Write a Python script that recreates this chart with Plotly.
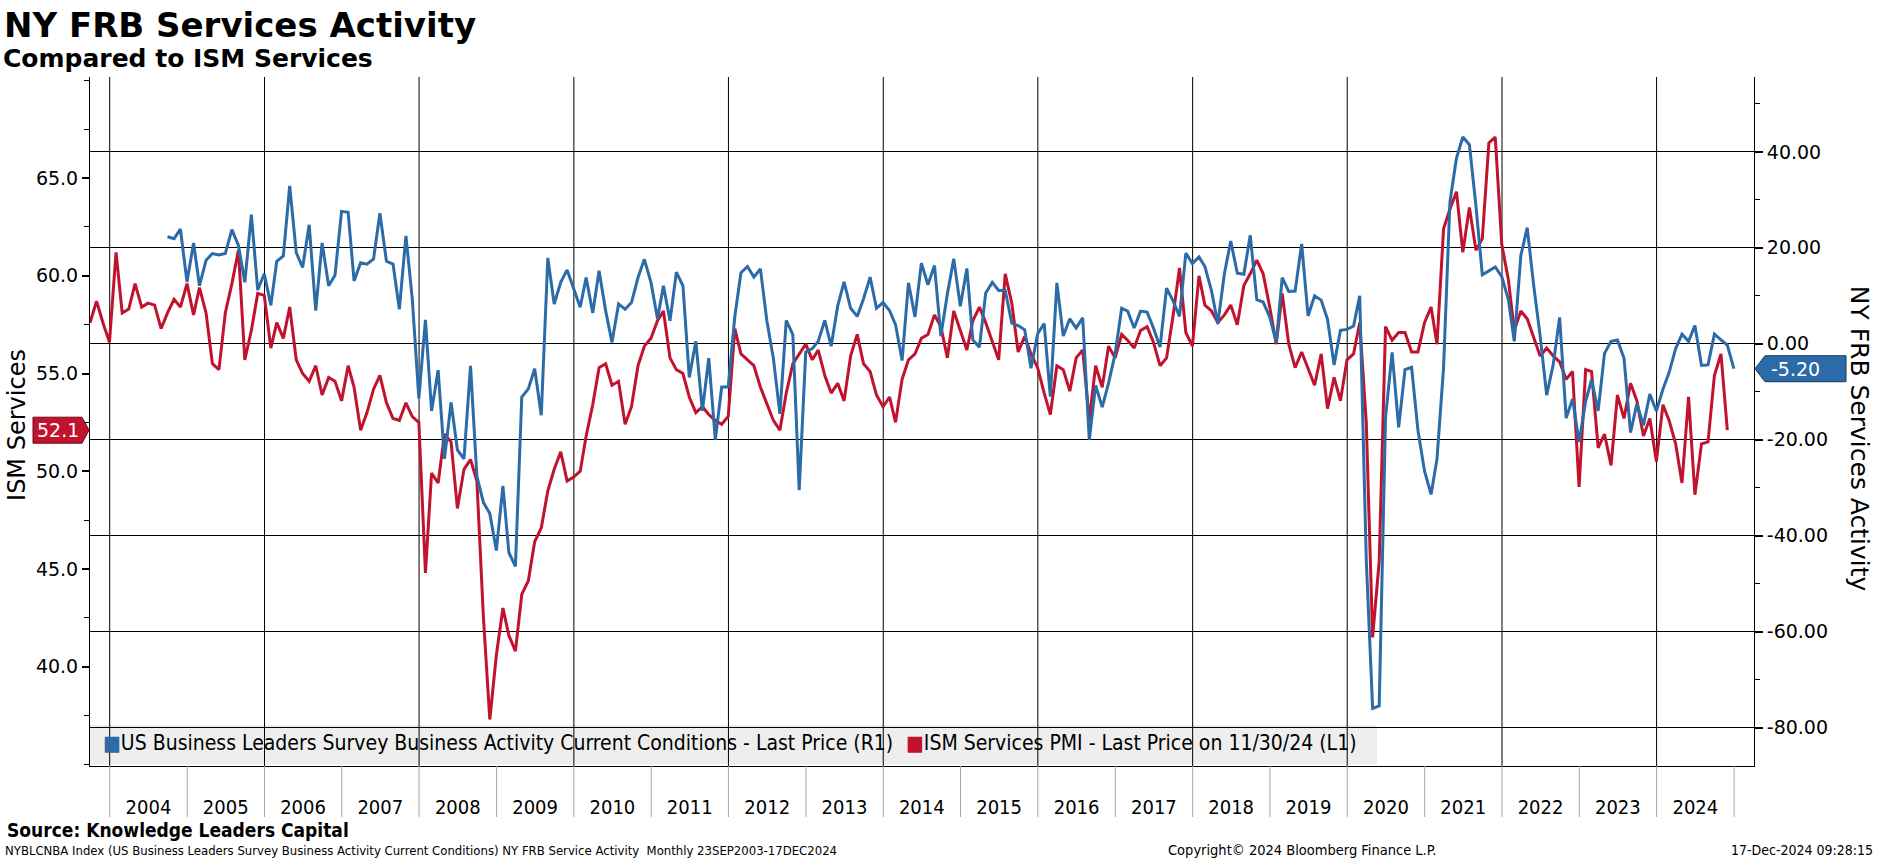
import pandas as pd
import plotly.graph_objects as go

# ---------------- data (month-end values) ----------------
# ISM Services PMI, Sep 2003 .. Nov 2024 (left axis)
ism_services_pmi = [
    57.6, 58.7, 57.6, 56.6,                                                  # 2003 Sep-Dec
    61.2, 58.1, 58.3, 59.6, 58.4, 58.6, 58.5, 57.3, 58.1, 58.8, 58.4, 59.6,  # 2004
    58.0, 59.4, 58.1, 55.5, 55.2, 58.1, 59.6, 61.3, 55.7, 57.2, 59.1, 59.0,  # 2005
    56.3, 57.6, 56.8, 58.4, 55.7, 55.0, 54.6, 55.4, 53.9, 54.8, 54.6, 53.6,  # 2006
    55.4, 54.3, 52.1, 53.0, 54.2, 54.9, 53.5, 52.7, 52.6, 53.5, 52.8, 52.5,  # 2007
    44.8, 49.9, 49.4, 51.9, 51.5, 48.1, 50.1, 50.6, 49.5, 42.5, 37.3, 40.6,  # 2008
    43.0, 41.6, 40.8, 43.7, 44.4, 46.4, 47.1, 49.0, 50.1, 51.0, 49.5, 49.7,  # 2009
    50.0, 51.8, 53.4, 55.3, 55.5, 54.4, 54.6, 52.4, 53.3, 55.4, 56.4, 56.8,  # 2010
    57.7, 58.2, 55.8, 55.2, 55.0, 53.8, 53.0, 53.3, 52.9, 52.6, 52.4, 52.8,  # 2011
    57.3, 56.0, 55.7, 55.4, 54.3, 53.5, 52.6, 52.1, 54.0, 55.5, 56.0, 56.5,  # 2012
    55.7, 56.2, 54.9, 54.0, 54.5, 53.6, 55.9, 57.0, 55.5, 55.1, 53.9, 53.3,  # 2013
    53.8, 52.5, 54.7, 55.7, 56.0, 56.8, 57.0, 58.0, 57.4, 55.8, 58.2, 57.2,  # 2014
    56.2, 57.7, 58.4, 57.6, 56.6, 55.7, 60.1, 58.6, 56.1, 56.9, 56.0, 55.3,  # 2015
    54.0, 52.9, 55.4, 55.2, 54.1, 55.8, 56.2, 52.6, 55.4, 54.3, 56.4, 55.8,  # 2016
    57.0, 56.7, 56.3, 57.2, 57.4, 56.6, 55.4, 55.8, 57.9, 60.4, 57.1, 56.4,  # 2017
    60.0, 58.5, 58.2, 57.6, 58.0, 58.5, 57.5, 59.5, 60.1, 60.8, 60.1, 58.4,  # 2018
    56.5, 59.1, 56.5, 55.3, 56.1, 55.3, 54.4, 56.0, 53.2, 54.8, 53.6, 55.7,  # 2019
    56.0, 57.6, 52.5, 41.5, 45.4, 57.4, 56.7, 57.1, 57.1, 56.1, 56.1, 57.6,  # 2020
    58.4, 56.5, 62.4, 63.4, 64.3, 61.2, 63.5, 61.3, 61.9, 66.8, 67.1, 61.6,  # 2021
    59.8, 57.2, 58.2, 57.8, 56.8, 55.9, 56.3, 55.9, 55.6, 54.7, 55.1, 49.2,  # 2022
    55.2, 55.1, 51.2, 51.9, 50.3, 53.9, 52.7, 54.5, 53.6, 51.8, 52.7, 50.5,  # 2023
    53.4, 52.6, 51.4, 49.4, 53.8, 48.8, 51.4, 51.5, 54.9, 56.0, 52.1,        # 2024 Jan-Nov
]
ism_first_month = "2003-09"

# NY FRB Business Leaders Survey, business activity, Sep 2004 .. Dec 2024 (right axis)
ny_frb_activity = [
    22.3, 21.9, 23.9, 12.9,                                                  # 2004 Sep-Dec
    21.0, 12.1, 17.4, 18.8, 18.5, 18.8, 23.8, 20.5, 12.8, 26.9, 11.2, 14.6,  # 2005
    8.0, 17.2, 18.3, 32.9, 19.0, 15.9, 24.8, 6.9, 21.0, 12.1, 14.3, 27.6,    # 2006
    27.4, 13.1, 16.9, 16.6, 17.7, 27.2, 17.2, 16.6, 7.2, 22.5, 9.3, -11.4,   # 2007
    5.0, -14.0, -5.5, -24.0, -12.2, -22.1, -24.0, -4.6, -27.6, -33.1, -35.4, -43.1,  # 2008
    -29.6, -43.5, -46.4, -11.1, -9.4, -5.2, -14.9, 17.9, 8.3, 12.8, 15.4, 11.7,     # 2009
    7.6, 13.8, 6.4, 15.2, 6.9, 0.3, 8.3, 7.2, 8.6, 13.8, 17.6, 12.8,         # 2010
    5.2, 12.1, 4.8, 14.9, 12.1, -7.0, 0.5, -14.0, -3.0, -20.0, -9.0, -9.0,   # 2011
    5.7, 14.8, 16.1, 13.9, 15.6, 4.9, -3.0, -14.6, 4.9, 1.9, -30.5, -1.7,    # 2012
    -1.0, 0.5, 4.9, -0.5, 7.9, 12.9, 7.4, 5.7, 9.4, 13.9, 7.4, 8.6,          # 2013
    6.9, 4.0, -3.5, 12.7, 5.6, 16.8, 12.3, 16.3, 1.6, 10.4, 17.7, 7.8,       # 2014
    15.7, 0.8, -0.7, 10.6, 12.8, 11.1, 11.1, 4.3, 3.8, 2.9, -5.1, 2.1,       # 2015
    4.2, -11.0, 12.7, 1.6, 5.2, 3.3, 5.4, -20.0, -8.7, -13.2, -8.2, -2.1,    # 2016
    7.4, 6.8, 3.3, 6.8, 6.6, 3.3, -0.7, 11.6, 9.0, 5.7, 18.9, 16.7,          # 2017
    18.1, 16.1, 11.1, 4.2, 14.6, 21.4, 14.7, 14.5, 22.6, 9.2, 8.7, 5.6,      # 2018
    0.3, 13.8, 10.9, 11.0, 20.8, 5.8, 10.0, 9.1, 5.1, -4.4, 2.8, 3.0,        # 2019
    3.7, 10.0, -45.0, -76.0, -75.5, -15.4, -1.8, -17.4, -5.4, -4.9, -18.0, -26.5,   # 2020
    -31.4, -24.0, -5.0, 29.5, 38.7, 43.1, 41.5, 28.7, 14.4, 15.2, 16.0, 14.0,       # 2021
    9.2, 0.5, 18.4, 24.2, 12.0, 1.7, -10.7, -4.3, 5.5, -15.5, -11.5, -20.5,  # 2022
    -12.0, -7.5, -14.0, -2.0, 0.5, 0.8, -3.0, -18.5, -12.5, -17.0, -10.5, -14.0,    # 2023
    -9.5, -6.0, -1.0, 2.0, 0.5, 3.8, -4.5, -4.4, 2.0, 0.8, -0.3, -5.2,       # 2024
]
ny_first_month = "2004-09"

year_labels = [str(y) for y in range(2004, 2025)]
divider_years = list(range(2004, 2026))
grid_years = list(range(2004, 2025, 2))

ism_ticks = [40, 45, 50, 55, 60, 65]
ism_ticktext = ["40.0", "45.0", "50.0", "55.0", "60.0", "65.0"]
ny_ticks = [-80, -60, -40, -20, 0, 20, 40]
ny_ticktext = ["-80.00", "-60.00", "-40.00", "-20.00", "0.00", "20.00", "40.00"]

series_names = [
    "US Business Leaders Survey Business Activity Current Conditions - Last Price (R1)",
    "ISM Services PMI - Last Price on 11/30/24 (L1)",
]


def month_ends(first_month, n):
    start = pd.Period(first_month, freq="M").to_timestamp() + pd.offsets.MonthBegin(1)
    return pd.date_range(start, periods=n, freq="MS") - pd.Timedelta(days=1)


ism_dates = month_ends(ism_first_month, len(ism_services_pmi))
ny_dates = month_ends(ny_first_month, len(ny_frb_activity))

# ---------------- style ----------------
BLUE = "#2b6ba8"
RED = "#c1132d"
NARROW = "Liberation Sans Narrow, Arial Narrow, DejaVu Sans Condensed, sans-serif"
SANS = "DejaVu Sans, Verdana, sans-serif"

fig = go.Figure()

fig.add_trace(go.Scatter(x=ny_dates, y=ny_frb_activity, yaxis="y2", mode="lines",
                         line=dict(color=BLUE, width=3), showlegend=False,
                         name=series_names[0]))
fig.add_trace(go.Scatter(x=ism_dates, y=ism_services_pmi, yaxis="y", mode="lines",
                         line=dict(color=RED, width=3), showlegend=False,
                         name=series_names[1]))

shapes = []
# legend background box (below gridlines)
shapes.append(dict(type="rect", xref="paper", yref="paper", x0=0, x1=0.7734, y0=0.002, y1=0.0595,
                   fillcolor="#eeeeee", line=dict(width=0), layer="below"))
# vertical gridlines every two years
for y in grid_years:
    shapes.append(dict(type="line", xref="x", yref="paper", x0=f"{y}-01-01", x1=f"{y}-01-01",
                       y0=0, y1=1, line=dict(color="black", width=1), layer="below"))
# year dividers below the axis
for y in divider_years:
    shapes.append(dict(type="line", xref="x", yref="paper", x0=f"{y}-01-01", x1=f"{y}-01-01",
                       y0=0, y1=-0.074, line=dict(color="#a8a8a8", width=1)))
# last-value tags
shapes.append(dict(type="path", xref="paper", yref="y", xsizemode="pixel", ysizemode="pixel",
                   xanchor=0, yanchor=ism_services_pmi[-1],
                   path="M -1,0 L -8,13 L -57,13 L -57,-13 L -8,-13 Z",
                   fillcolor=RED, line=dict(color="#6e0a18", width=1), layer="above"))
shapes.append(dict(type="path", xref="paper", yref="y2", xsizemode="pixel", ysizemode="pixel",
                   xanchor=1, yanchor=ny_frb_activity[-1],
                   path="M 1,0 L 11,13 L 92,13 L 92,-13 L 11,-13 Z",
                   fillcolor=BLUE, line=dict(color="#123a63", width=1), layer="above"))

legend_font = dict(family=NARROW, size=21, color="black")
annotations = [
    # legend entries
    dict(text=f"<span style='color:{BLUE}'>\u25a0</span>{series_names[0]}",
         xref="paper", yref="paper", x=0, xshift=11, y=0.033, xanchor="left", yanchor="middle",
         showarrow=False, font=legend_font),
    dict(text=f"<span style='color:{RED}'>\u25a0</span>{series_names[1]}",
         xref="paper", yref="paper", x=0.489, y=0.033, xanchor="left", yanchor="middle",
         showarrow=False, font=legend_font),
    # titles
    dict(text="<b>NY FRB Services Activity</b>", xref="paper", yref="paper", x=0, y=1,
         xshift=-88, yshift=52, xanchor="left", yanchor="middle", showarrow=False,
         font=dict(family=SANS, size=34, color="black")),
    dict(text="<b>Compared to ISM Services</b>", xref="paper", yref="paper", x=0, y=1,
         xshift=-89, yshift=19, xanchor="left", yanchor="middle", showarrow=False,
         font=dict(family=SANS, size=25, color="black")),
    dict(text="ISM Services", xref="paper", yref="paper", x=0, y=0.495, xshift=-73,
         textangle=-90, showarrow=False, xanchor="center", yanchor="middle",
         font=dict(family=SANS, size=24, color="black")),
    dict(text="NY FRB Services Activity", xref="paper", yref="paper", x=1, y=0.475, xshift=105,
         textangle=90, showarrow=False, xanchor="center", yanchor="middle",
         font=dict(family=SANS, size=25, color="black")),
    # last-value tag texts
    dict(text=f"{ism_services_pmi[-1]:.1f}", xref="paper", yref="y", x=0, y=ism_services_pmi[-1],
         xshift=-32, showarrow=False, xanchor="center", yanchor="middle",
         font=dict(family=SANS, size=19, color="white")),
    dict(text=f"{ny_frb_activity[-1]:.2f}", xref="paper", yref="y2", x=1, y=ny_frb_activity[-1],
         xshift=41, showarrow=False, xanchor="center", yanchor="middle",
         font=dict(family=SANS, size=19, color="white")),
    # footer
    dict(text="<b>Source: Knowledge Leaders Capital</b>", xref="paper", yref="paper", x=0, y=0,
         xshift=-85, yshift=-64, xanchor="left", yanchor="middle", showarrow=False,
         font=dict(family=NARROW, size=19, color="black")),
    dict(text="NYBLCNBA Index (US Business Leaders Survey Business Activity Current Conditions) "
              "NY FRB Service Activity&nbsp;&nbsp;Monthly 23SEP2003-17DEC2024",
         xref="paper", yref="paper", x=0, y=0, xshift=-87, yshift=-84, xanchor="left",
         yanchor="middle", showarrow=False, font=dict(family=NARROW, size=13, color="black")),
    dict(text="Copyright\u00a9 2024 Bloomberg Finance L.P.", xref="paper", yref="paper",
         x=0.7284, y=0, yshift=-84, xanchor="center", yanchor="middle", showarrow=False,
         font=dict(family=NARROW, size=14.5, color="black")),
    dict(text="17-Dec-2024 09:28:15", xref="paper", yref="paper", x=1, y=0, xshift=121,
         yshift=-84, xanchor="right", yanchor="middle", showarrow=False,
         font=dict(family=NARROW, size=14, color="black")),
]

mid_year = [f"{y}-07-02" for y in year_labels]

fig.update_layout(
    width=1877, height=859,
    margin=dict(l=90, r=123, t=77, b=93, autoexpand=False),
    paper_bgcolor="white", plot_bgcolor="white",
    showlegend=False,
    xaxis=dict(type="date", range=["2003-09-30", "2025-04-05"], showgrid=False, zeroline=False,
               showline=True, linecolor="black", linewidth=1, mirror=False,
               tickmode="array", tickvals=mid_year, ticktext=year_labels,
               ticks="outside", ticklen=23, tickcolor="rgba(0,0,0,0)",
               tickfont=dict(family=NARROW, size=20, color="black")),
    yaxis=dict(range=[34.92, 70.17], showgrid=False, zeroline=False,
               showline=True, linecolor="black", linewidth=1,
               tickmode="array", tickvals=ism_ticks, ticktext=ism_ticktext,
               ticks="outside", ticklen=7, tickwidth=2, tickcolor="black",
               minor=dict(tickmode="linear", tick0=0, dtick=2.5, ticks="outside", ticklen=5,
                          tickcolor="black", tickwidth=1, showgrid=False),
               tickfont=dict(family=SANS, size=19, color="black")),
    yaxis2=dict(range=[-88.0, 55.6], overlaying="y", side="right", anchor="x",
                showgrid=True, gridcolor="black", gridwidth=1, zeroline=False,
                showline=True, linecolor="black", linewidth=1,
                tickmode="array", tickvals=ny_ticks, ticktext=ny_ticktext,
                ticks="outside", ticklen=8, tickwidth=2, tickcolor="black",
                minor=dict(tickmode="linear", tick0=0, dtick=10, ticks="outside", ticklen=5,
                           tickcolor="black", tickwidth=1, showgrid=False),
                tickfont=dict(family=SANS, size=19, color="black")),
    shapes=shapes,
    annotations=annotations,
)

fig.write_html("out.html", config={"displayModeBar": False},
               post_script="document.body.style.margin='0px';document.body.style.overflow='hidden';")
